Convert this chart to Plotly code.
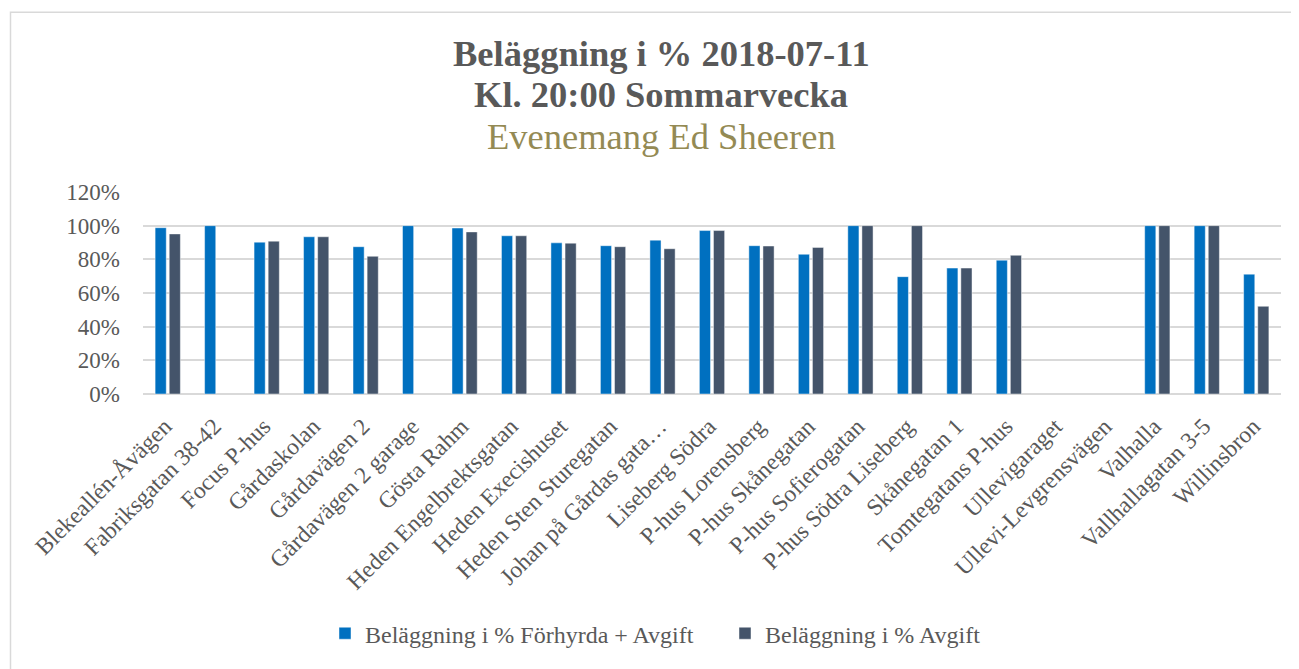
import plotly.graph_objects as go

categories = [
    "Blekeallén-Åvägen", "Fabriksgatan 38-42", "Focus P-hus", "Gårdaskolan",
    "Gårdavägen 2", "Gårdavägen 2 garage", "Gösta Rahm", "Heden Engelbrektsgatan",
    "Heden Execishuset", "Heden Sten Sturegatan", "Johan på Gårdas gata…",
    "Liseberg Södra", "P-hus Lorensberg", "P-hus Skånegatan", "P-hus Sofierogatan",
    "P-hus Södra Liseberg", "Skånegatan 1", "Tomtegatans P-hus", "Ullevigaraget",
    "Ullevi-Levgrensvägen", "Valhalla", "Vallhallagatan 3-5", "Willinsbron",
]

forhyrda_avgift = [
    0.988, 1.00, 0.902, 0.934, 0.875, 1.00, 0.986, 0.940, 0.898, 0.881, 0.914,
    0.971, 0.881, 0.830, 1.00, 0.697, 0.748, 0.795, None, None, 1.00, 1.00, 0.712,
]

avgift = [
    0.951, None, 0.908, 0.934, 0.818, None, 0.963, 0.940, 0.896, 0.875, 0.863,
    0.971, 0.879, 0.871, 1.00, 1.00, 0.748, 0.824, None, None, 1.00, 1.00, 0.521,
]

series_names = ["Beläggning i % Förhyrda + Avgift", "Beläggning i % Avgift"]
title_lines = ["Beläggning i % 2018-07-11", "Kl. 20:00 Sommarvecka", "Evenemang Ed Sheeren"]
y_ticks = [0, 0.2, 0.4, 0.6, 0.8, 1.0, 1.2]

# page body has an 8px margin; work in screen pixels and convert
OFF = 8
W, H = 1299 - OFF, 669 - OFF
L, R, T, B = 143 - OFF, 18, 192 - OFF, 273
PW = W - L - R
PH = H - T - B

def px_x(px):
    return (px - OFF - L) / PW

def px_y(py):
    return (H - B - (py - OFF)) / PH

FONT = "Liberation Serif"
GRAY = "#595959"

fig = go.Figure()
fig.add_trace(go.Bar(
    x=categories, y=forhyrda_avgift, name=series_names[0],
    marker=dict(color="#0070C0", line=dict(color="rgba(255,255,255,0.45)", width=1)),
))
fig.add_trace(go.Bar(
    x=categories, y=avgift, name=series_names[1],
    marker=dict(color="#44546A", line=dict(color="rgba(255,255,255,0.45)", width=1)),
))

annotations = []
title_specs = [
    (title_lines[0], 52.5, True, GRAY),
    (title_lines[1], 93.5, True, GRAY),
    (title_lines[2], 136, False, "#948A54"),
]
for text, cy, bold, col in title_specs:
    annotations.append(dict(
        text=f"<b>{text}</b>" if bold else text,
        xref="paper", yref="paper", x=px_x(661), y=px_y(cy),
        xanchor="center", yanchor="middle", showarrow=False,
        font=dict(family=FONT, size=36.5, color=col),
    ))

fig.update_layout(
    width=W, height=H, autosize=False,
    margin=dict(l=L, r=R, t=T, b=B),
    paper_bgcolor="white", plot_bgcolor="white",
    barmode="group", bargap=0.43, bargroupgap=0.21,
    font=dict(family=FONT, size=23, color=GRAY),
    showlegend=True,
    legend=dict(
        orientation="h", x=px_x(325), xanchor="left",
        y=px_y(638), yanchor="middle",
        font=dict(family=FONT, size=24, color=GRAY),
        itemclick=False, traceorder="normal",
        entrywidth=355, entrywidthmode="pixels",
    ),
    annotations=annotations,
    shapes=[dict(
        type="rect", xref="paper", yref="paper",
        x0=px_x(10.5), y0=px_y(700), x1=px_x(1330), y1=px_y(10.5),
        line=dict(color="#D9D9D9", width=1.5), fillcolor="rgba(0,0,0,0)", layer="below",
    )],
)

fig.update_xaxes(
    type="category", tickangle=-45, showgrid=False, showline=False, ticks="",
    ticklabelstandoff=13, ticklabelshift=-3,
    tickfont=dict(family=FONT, size=23.5, color=GRAY),
)
fig.update_yaxes(
    range=[0, 1.2], tickvals=y_ticks, tickformat=".0%",
    showgrid=True, gridcolor="#D9D9D9", gridwidth=1.5,
    zeroline=True, zerolinecolor="#D9D9D9", zerolinewidth=1.5,
    showline=False, ticks="", ticklabelstandoff=22,
    tickfont=dict(family=FONT, size=23, color=GRAY),
)

fig.write_html("out.html")
